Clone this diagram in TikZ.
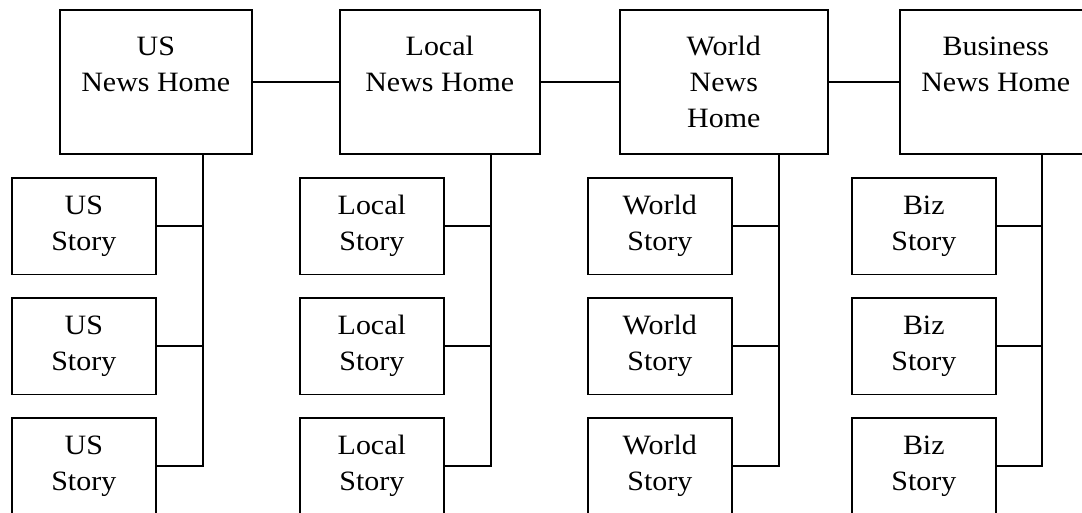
\documentclass[tikz,border=0pt]{standalone}
\usepackage{fontspec}
\setmainfont{Liberation Serif}[FakeStretch=1.07]
\newcommand\hometxt[2]{\parbox[c][144pt][t]{#1}{\centering\rule{0pt}{46pt}#2}}
\begin{document}
\begin{tikzpicture}[x=1pt,y=-1pt,
  line width=1.6pt,
  boxfont/.style={font=\fontsize{28}{35.7}\selectfont},
  homebox/.style={draw, boxfont, inner sep=0pt, anchor=north west, minimum height=144pt},
  storybox/.style={draw, boxfont, align=center, inner sep=0pt, anchor=north west, minimum width=144pt, minimum height=96.5pt},
  link/.style={draw, line width=1.6pt}]
\useasboundingbox (0,0) rectangle (1082,512);
\clip (0,0) rectangle (1082,512);
\fill[white] (0,0) rectangle (1082,512);
% home boxes
\node[homebox, minimum width=192pt] (us) at (59,9) {\hometxt{192pt}{US\\News Home}};
\node[homebox, minimum width=200pt] (loc) at (339,9) {\hometxt{200pt}{Local\\News Home}};
\node[homebox, minimum width=208pt] (wor) at (619,9) {\hometxt{208pt}{World\\News\\Home}};
\node[homebox, minimum width=192pt] (biz) at (899,9) {\hometxt{192pt}{Business\\News Home}};
% story boxes
\foreach \i/\y in {1/177,2/297,3/417}{
  \node[storybox] (us\i) at (11,\y) {US\\Story};
  \node[storybox] (loc\i) at (299,\y) {Local\\Story};
  \node[storybox] (wor\i) at (587,\y) {World\\Story};
  \node[storybox] (biz\i) at (851,\y) {Biz\\Story};
}
% home connectors
\draw[link] (us.east) -- (loc.west);
\draw[link] (loc.east) -- (wor.west);
\draw[link] (wor.east) -- (biz.west);
% trunks
\draw[link] (us.south west) ++(144,0) coordinate (tus) |- (us3.east);
\draw[link] (loc.south west) ++(152,0) coordinate (tloc) |- (loc3.east);
\draw[link] (wor.south west) ++(160,0) coordinate (twor) |- (wor3.east);
\draw[link] (biz.south west) ++(143,0) coordinate (tbiz) |- (biz3.east);
\foreach \i in {1,2}{
  \draw[link] (us\i.east) -- (us\i.east -| tus);
  \draw[link] (loc\i.east) -- (loc\i.east -| tloc);
  \draw[link] (wor\i.east) -- (wor\i.east -| twor);
  \draw[link] (biz\i.east) -- (biz\i.east -| tbiz);
}
\end{tikzpicture}
\end{document}
